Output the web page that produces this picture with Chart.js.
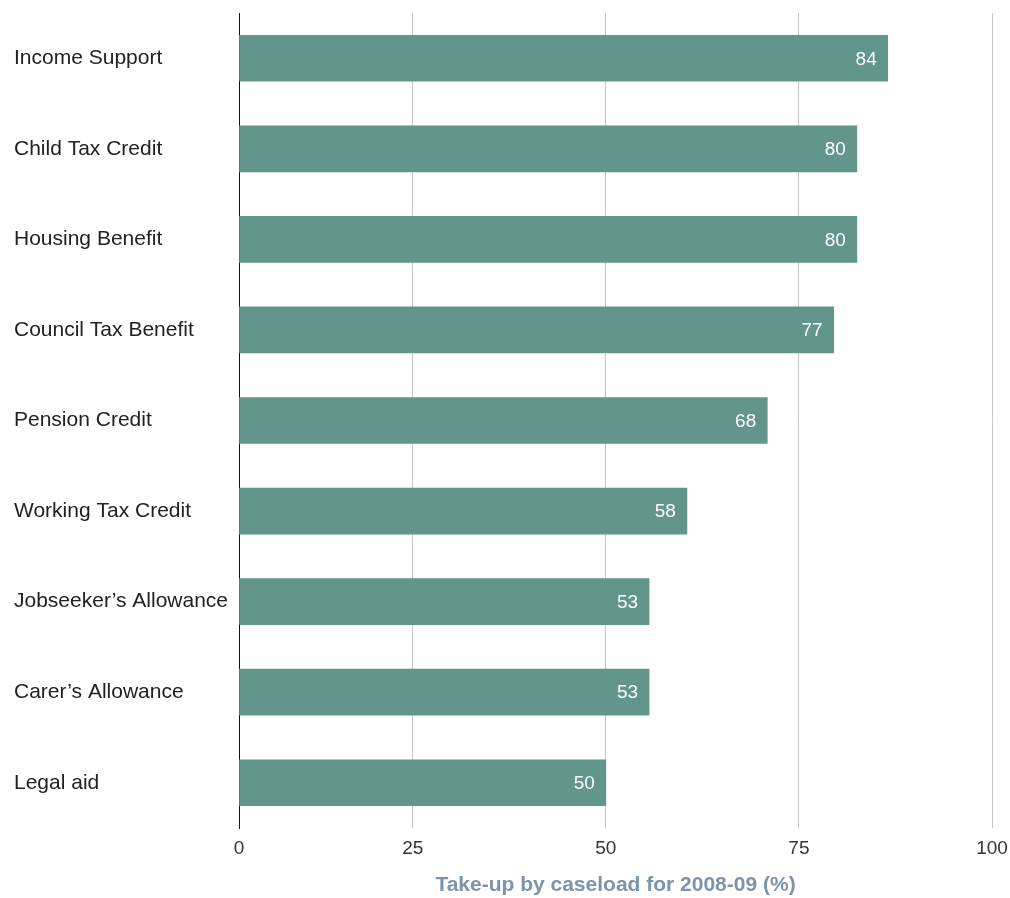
<!DOCTYPE html>
<html>
<head>
<meta charset="utf-8">
<script src="https://cdn.jsdelivr.net/npm/chart.js@4.4.1/dist/chart.umd.min.js"></script>
<style>
  html, body { margin: 0; padding: 0; background: #ffffff; }
  #wrap { width: 1010px; height: 898px; }
</style>
</head>
<body>
<div id="wrap"><canvas id="c" width="1010" height="898"></canvas></div>
<script>
// ---- data ----
const categories = [
  "Income Support",
  "Child Tax Credit",
  "Housing Benefit",
  "Council Tax Benefit",
  "Pension Credit",
  "Working Tax Credit",
  "Jobseeker\u2019s Allowance",
  "Carer\u2019s Allowance",
  "Legal aid"
];
// bar lengths as read against the gridlines
const barValues = [86.5, 82.5, 82.5, 79.5, 70.9, 60.5, 55.6, 55.6, 50];
// value labels printed on the bars
const valueLabels = ["84", "80", "80", "77", "68", "58", "53", "53", "50"];
// x-axis ticks
const tickValues = [2.5, 25, 50, 75, 100];
const tickLabels = ["0", "25", "50", "75", "100"];
const axisTitle = "Take-up by caseload for 2008-09 (%)";

const FONT = "'Liberation Sans', Arial, Helvetica, sans-serif";

const barLabelPlugin = {
  id: 'barLabels',
  afterDatasetsDraw(chart) {
    const ctx = chart.ctx;
    const meta = chart.getDatasetMeta(0);
    ctx.save();
    ctx.fillStyle = '#ffffff';
    ctx.font = "19px " + FONT;
    ctx.textAlign = 'right';
    ctx.textBaseline = 'middle';
    meta.data.forEach((bar, i) => {
      ctx.fillText(valueLabels[i], bar.x - 11, bar.y + 1);
    });
    ctx.restore();
  }
};

new Chart(document.getElementById('c'), {
  type: 'bar',
  data: {
    labels: categories,
    datasets: [{
      data: barValues,
      backgroundColor: '#62968a',
      borderWidth: 0,
      barThickness: 46,
      base: tickValues[0]
    }]
  },
  options: {
    indexAxis: 'y',
    responsive: false,
    animation: false,
    layout: { padding: { left: 14, top: 13, right: 18, bottom: 0 } },
    plugins: {
      legend: { display: false },
      tooltip: { enabled: false }
    },
    scales: {
      x: {
        type: 'linear',
        min: tickValues[0],
        max: tickValues[tickValues.length - 1],
        afterBuildTicks(scale) {
          scale.ticks = tickValues.map(v => ({ value: v }));
        },
        afterFit(scale) {
          scale.height = 70;
          scale.paddingLeft = 0;
          scale.paddingRight = 0;
        },
        grid: {
          drawTicks: false,
          color: (c) => c.index === 0 ? 'rgba(0,0,0,0)' : '#c6c6c6',
          lineWidth: 1
        },
        border: { display: false },
        ticks: {
          padding: 9,
          color: '#333333',
          font: { family: FONT, size: 19 },
          callback: (v, i) => tickLabels[i]
        },
        title: {
          display: true,
          text: axisTitle,
          color: '#7d93a9',
          font: { family: FONT, size: 21, weight: 'bold' },
          padding: { top: 0, bottom: 0 }
        }
      },
      y: {
        afterFit(scale) {
          scale.width = 225;
          scale.paddingTop = 0;
          scale.paddingBottom = 0;
        },
        grid: { display: false, drawTicks: false },
        border: { display: true, color: '#111111', width: 1 },
        ticks: {
          crossAlign: 'far',
          color: '#222222',
          font: { family: FONT, size: 21 }
        }
      }
    }
  },
  plugins: [barLabelPlugin]
});
</script>
</body>
</html>
